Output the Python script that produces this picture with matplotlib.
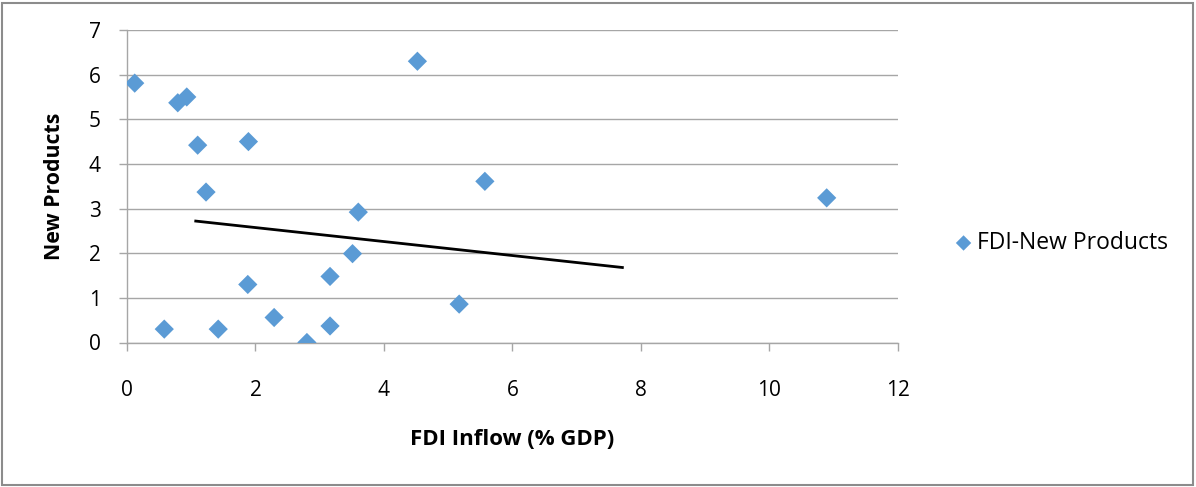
import matplotlib
matplotlib.use("Agg")
import matplotlib.pyplot as plt
from matplotlib.patches import Rectangle

plt.rcParams['font.family'] = ['Open Sans', 'DejaVu Sans']

# Data
fdi_inflow = [0.12, 0.79, 0.93, 1.10, 1.89, 1.23, 0.58, 1.42, 1.88, 2.29,
              2.80, 3.16, 3.16, 3.51, 3.60, 4.52, 5.17, 5.57, 10.89]
new_products = [5.81, 5.37, 5.50, 4.42, 4.50, 3.37, 0.30, 0.30, 1.30, 0.56,
                0.00, 0.37, 1.48, 1.99, 2.92, 6.30, 0.86, 3.61, 3.24]
trend_x = [1.07, 7.71]
trend_y = [2.72, 1.68]
x_ticks = [0, 2, 4, 6, 8, 10, 12]
y_ticks = [0, 1, 2, 3, 4, 5, 6, 7]
series_name = "FDI-New Products"
x_label = "FDI Inflow (% GDP)"
y_label = "New Products"

W, H = 1196, 487
fig = plt.figure(figsize=(W / 100, H / 100), dpi=100)
# chart border
fig.patches.append(Rectangle((2 / W, 2 / H), (W - 5) / W, (H - 5) / H,
                             transform=fig.transFigure, fill=False,
                             edgecolor='#8c8c8c', linewidth=1.5))

left, right, top, bottom = 127, 898, 30, 342.5
ax = fig.add_axes([left / W, 1 - bottom / H, (right - left) / W, (bottom - top) / H])

grid_c = '#a6a6a6'
ax.scatter(fdi_inflow, new_products, marker='D', s=9.8 ** 2, color='#5B9BD5',
           edgecolors='none', zorder=3, label=series_name)
ax.plot(trend_x, trend_y, color='black', linewidth=2, zorder=2)

ax.set_xlim(0, 12)
ax.set_ylim(0, 7)
ax.set_xticks(x_ticks)
ax.set_yticks(y_ticks)
ax.yaxis.grid(True, color=grid_c, linewidth=1)
ax.set_axisbelow(True)
for s in ['top', 'right']:
    ax.spines[s].set_visible(False)
for s in ['left', 'bottom']:
    ax.spines[s].set_color(grid_c)
    ax.spines[s].set_linewidth(1)
ax.tick_params(axis='both', color=grid_c, length=6, width=1, labelsize=15,
               labelcolor='black')
ax.tick_params(axis='x', pad=21)
ax.tick_params(axis='y', pad=13)

ax.set_xlabel(x_label, fontsize=16, fontweight='bold', labelpad=20)
ax.set_ylabel(y_label, fontsize=15.3, fontweight='bold', labelpad=17)

leg = ax.legend(loc='center left', bbox_to_anchor=(920 / W, 1 - 243 / H),
                bbox_transform=fig.transFigure, frameon=False, fontsize=16.5,
                handletextpad=-0.4, markerscale=0.8, scatterpoints=1)

fig.savefig('out.png', dpi=100)
